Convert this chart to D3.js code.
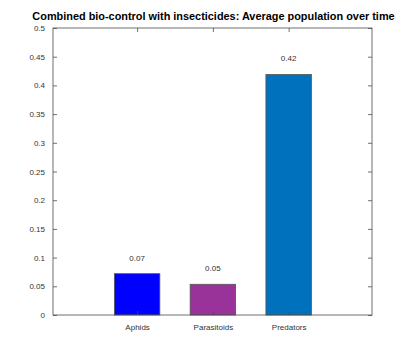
<!DOCTYPE html>
<html>
<head>
<meta charset="utf-8">
<script src="https://cdn.jsdelivr.net/npm/d3@7"></script>
<style>
  body { margin: 0; background: #fff; }
  text { font-family: "Liberation Sans", Arial, sans-serif; }
</style>
</head>
<body>
<div id="chart"></div>
<script>
// chart data
var categories = ["Aphids", "Parasitoids", "Predators"];
var values = [0.072, 0.0535, 0.419];
var valueLabels = ["0.07", "0.05", "0.42"];
var barColors = ["#0000ff", "#993399", "#0072bd"];
var yTicks = [0, 0.05, 0.1, 0.15, 0.2, 0.25, 0.3, 0.35, 0.4, 0.45, 0.5];
var yTickLabels = ["0", "0.05", "0.1", "0.15", "0.2", "0.25", "0.3", "0.35", "0.4", "0.45", "0.5"];

var W = 411, H = 354;
var pLeft = 53, pRight = 372, pTop = 28, pBottom = 315;

var svg = d3.select("#chart").append("svg")
    .attr("width", W)
    .attr("height", H);

var x = d3.scaleLinear().domain([-0.11, 4.1]).range([pLeft, pRight]);
var y = d3.scaleLinear().domain([0, 0.5]).range([pBottom, pTop]);
var bw = x(0.6) - x(0);
var axisColor = "#4d4d4d";

// bars
svg.selectAll("rect.bar")
    .data(values)
    .enter().append("rect")
    .attr("class", "bar")
    .attr("x", function (d, i) { return x(i + 1) - bw / 2; })
    .attr("y", function (d) { return y(d); })
    .attr("width", bw)
    .attr("height", function (d) { return y(0) - y(d); })
    .attr("fill", function (d, i) { return barColors[i]; })
    .attr("stroke", "#555")
    .attr("stroke-width", 0.8);

// value labels
svg.selectAll("text.val")
    .data(values)
    .enter().append("text")
    .attr("class", "val")
    .attr("x", function (d, i) { return x(i + 1); })
    .attr("y", function (d) { return y(d) - 13; })
    .attr("text-anchor", "middle")
    .attr("font-size", "8px")
    .attr("fill", "#333")
    .text(function (d, i) { return valueLabels[i]; });

// axes with inward ticks
var yLeft = d3.axisLeft(y).tickValues(yTicks).tickSize(-4)
    .tickFormat(function (d, i) { return yTickLabels[i]; }).tickPadding(8);
var yRight = d3.axisRight(y).tickValues(yTicks).tickSize(-4).tickFormat("");
var xBottom = d3.axisBottom(x).tickValues([1, 2, 3]).tickSize(-4)
    .tickFormat(function (d, i) { return categories[i]; }).tickPadding(9);
var xTop = d3.axisTop(x).tickValues([1, 2, 3]).tickSize(-4).tickFormat("");

function style(g) {
    g.select(".domain").remove();
    g.selectAll("line").attr("stroke", axisColor).attr("stroke-width", 0.8);
    g.selectAll("text").attr("fill", "#333").attr("font-size", "8px")
        .style("font-family", "'Liberation Sans', Arial, sans-serif");
}

svg.append("g").attr("transform", "translate(" + pLeft + ",0)").call(yLeft).call(style);
svg.append("g").attr("transform", "translate(" + pRight + ",0)").call(yRight).call(style);
svg.append("g").attr("transform", "translate(0," + pBottom + ")").call(xBottom).call(style);
svg.append("g").attr("transform", "translate(0," + pTop + ")").call(xTop).call(style);

// box
svg.append("rect")
    .attr("x", pLeft).attr("y", pTop)
    .attr("width", pRight - pLeft).attr("height", pBottom - pTop)
    .attr("fill", "none")
    .attr("stroke", axisColor)
    .attr("stroke-width", 0.8);

// title
svg.append("text")
    .attr("x", (pLeft + pRight) / 2 + 1)
    .attr("y", 20)
    .attr("text-anchor", "middle")
    .attr("font-size", "10.9px")
    .attr("font-weight", "bold")
    .attr("fill", "#000")
    .text("Combined bio-control with insecticides: Average population over time");
</script>
</body>
</html>
